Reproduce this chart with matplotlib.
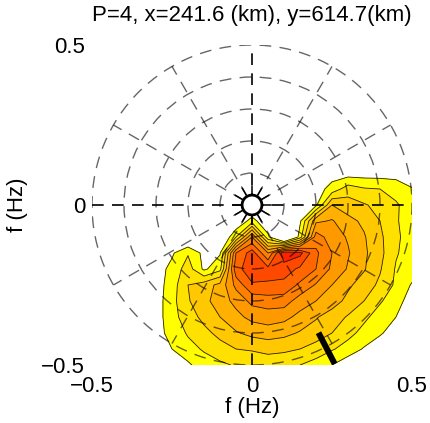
import numpy as np
import matplotlib
matplotlib.use('Agg')
import matplotlib.pyplot as plt
from matplotlib.patches import Circle

plt.rcParams['font.family'] = ['Liberation Sans', 'DejaVu Sans']

# grille des fréquences (Hz)
fx = [-0.5, -0.45, -0.4, -0.35, -0.3, -0.25, -0.2, -0.15, -0.1, -0.05, 0.0,
      0.05, 0.1, 0.15, 0.2, 0.25, 0.3, 0.35, 0.4, 0.45, 0.5]
fy = [0.1, 0.05, 0.0, -0.05, -0.1, -0.15, -0.2, -0.25, -0.3, -0.35, -0.4, -0.45, -0.5]

# niveau du spectre (indice de classe)
spec = [
    [0, 0, 0, 0, 0, 0, 0, 0, 0, 0, 0, 0, 0, 0, 0, 0, 0, 0, 0, 0, 0],
    [0, 0, 0, 0, 0, 0, 0, 0, 0, 0, 0, 0, 0, 0, 0, 0.9, 2.0, 1.6, 1.5, 1.2, 0.55],
    [0, 0, 0, 0, 0, 0, 0, 0, 0, 0, -1, 0, 0, 0, 0.3, 3.5, 3.0, 2.6, 2.2, 1.6, 1.1],
    [0, 0, 0, 0, 0, 0, 0, 0, 0, -0.6, 1.0, -0.6, -1, 0.3, 4.3, 4.6, 3.8, 3.3, 2.5, 1.6, 1.0],
    [0, 0, 0, 0, 0, -1, -1, -1, -1, 1.5, 5.5, 0.8, -3, 1.0, 6.0, 5.0, 4.4, 3.6, 2.7, 1.7, 1.0],
    [0, 0, 0, 0, 0, 0.35, 1.4, 0.2, 0.4, 6.5, 8.0, 5.5, 9.2, 8.8, 6.7, 5.5, 4.6, 3.7, 2.8, 1.6, 1.0],
    [0, 0, 0, 0, 0, 0.8, 2.0, 0.3, 1.2, 7.2, 8.0, 7.8, 8.0, 7.3, 6.5, 5.3, 4.4, 3.6, 2.6, 1.4, 1.0],
    [0, 0, 0, 0, 0, 1.0, 2.5, 3.0, 3.8, 5.8, 7.4, 7.4, 7.2, 6.3, 5.4, 4.5, 3.7, 3.0, 2.3, 1.3, 0.4],
    [0, 0, 0, 0, 0, 1.15, 2.4, 3.2, 4.0, 4.8, 5.8, 6.0, 6.0, 5.0, 4.5, 4.0, 3.2, 2.5, 1.6, 1.0, -0.1],
    [0, 0, 0, 0, 0, 1.15, 2.0, 2.8, 3.5, 4.2, 4.8, 5.0, 4.8, 4.2, 3.6, 3.0, 2.4, 1.7, 1.1, 0.5, -0.5],
    [0, 0, 0, 0, 0, 0.95, 1.6, 2.2, 2.8, 3.4, 3.8, 4.0, 3.8, 3.4, 3.0, 2.5, 1.8, 1.2, 0.7, -0.3, -0.5],
    [0, 0, 0, 0, -0.3, 0.5, 1.2, 1.6, 2.1, 2.5, 2.6, 2.8, 2.7, 2.5, 2.1, 1.6, 1.1, 0.4, -0.5, -0.5, -0.5],
    [0, 0, 0, 0, 0, 0, 0.3, 1.1, 1.3, 1.6, 1.8, 1.9, 1.8, 1.5, 1.1, 0.5, -0.2, -0.5, -0.5, -0.5, -0.5],
]
levels = [0.5, 1.5, 2.5, 3.5, 4.5, 5.5, 6.5, 7.5, 8.5, 9.5]
band_colors = ['#FFFF00', '#FFE100', '#FFC800', '#FFB000', '#FF9900',
               '#FF8000', '#FF6600', '#FF4800', '#FF2000']

rings = [0.1, 0.2, 0.3, 0.4, 0.5]
spokes = [30, 60, 120, 150, 210, 240, 300, 330]
wind_dir = -62.5          # direction du trait noir (deg)
wind_r = [0.45, 0.56]

fig = plt.figure(figsize=(4.31, 4.23), dpi=100)
ax = fig.add_axes([92/431, 58/423, 320/431, 320/423])

ax.contourf(fx, fy, spec, levels=levels, colors=band_colors, zorder=1)
ax.contour(fx, fy, spec, levels=levels, colors='#2a2000', linewidths=0.6, zorder=2)

dash = (0, (8.5, 6))
for r in rings:
    ax.add_patch(Circle((0, 0), r, fill=False, ec='k', alpha=0.6, lw=1.0,
                        ls=dash, zorder=3))
for d in spokes:
    t = np.deg2rad(d)
    ax.plot([0.03*np.cos(t), 0.5*np.cos(t)], [0.03*np.sin(t), 0.5*np.sin(t)],
            color='k', alpha=0.6, lw=1.0, ls=dash, zorder=3)
ax.plot([-0.5, 0.5], [0, 0], color='k', lw=1.2, ls=(0, (7, 5)), zorder=3)
ax.plot([0, 0], [-0.5, 0.5], color='k', lw=1.2, ls=(0, (7, 5)), zorder=3)

# petits rayons autour du centre
for d in range(0, 360, 30):
    t = np.deg2rad(d)
    ax.plot([0.03*np.cos(t), 0.06*np.cos(t)], [0.03*np.sin(t), 0.06*np.sin(t)],
            color='k', lw=1.1, zorder=4)
ax.add_patch(Circle((0, 0), 0.031, fc='white', ec='k', lw=2.0, zorder=5))

t = np.deg2rad(wind_dir)
ax.plot([wind_r[0]*np.cos(t), wind_r[1]*np.cos(t)],
        [wind_r[0]*np.sin(t), wind_r[1]*np.sin(t)],
        color='k', lw=4.3, solid_capstyle='butt', zorder=6)

ax.set_xlim(-0.5, 0.5)
ax.set_ylim(-0.5, 0.5)
ax.set_xticks([-0.5, 0, 0.5])
ax.set_yticks([-0.5, 0, 0.5])
ax.set_xticklabels(['\u22120.5', '0', '0.5'])
ax.set_yticklabels(['\u22120.5', '0', '0.5'])
ax.tick_params(length=0, labelsize=16)
ax.tick_params(axis='x', pad=8)
ax.tick_params(axis='y', pad=5)
for s in ax.spines.values():
    s.set_visible(False)

ax.set_xlabel('f (Hz)', fontsize=16)
ax.xaxis.set_label_coords(0.5, -0.1)
ax.set_ylabel('f (Hz)', fontsize=16)
ax.yaxis.set_label_coords(-0.2, 0.5)

fig.text(252/431, 1 - 16/423, 'P=4, x=241.6 (km), y=614.7(km)', ha='center',
         va='center', fontsize=16)

fig.savefig('out.png', dpi=100)
